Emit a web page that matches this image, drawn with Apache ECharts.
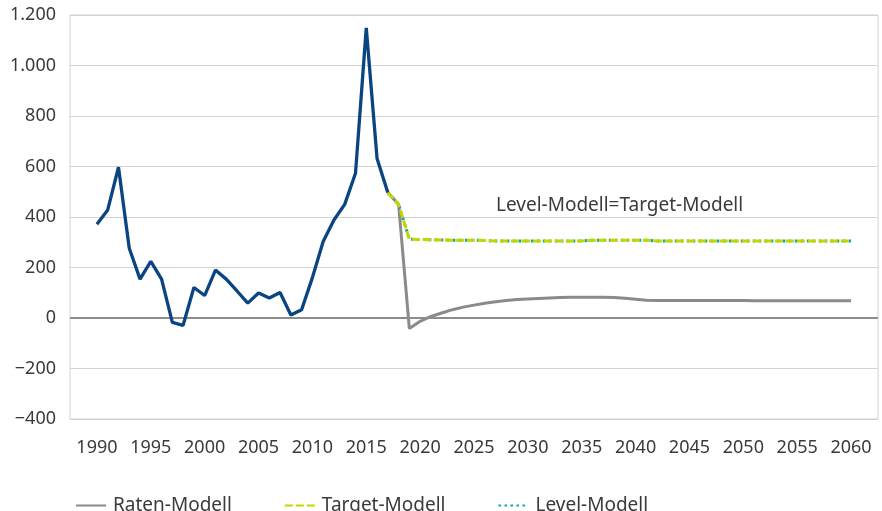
<!DOCTYPE html>
<html>
<head>
<meta charset="utf-8">
<script src="https://cdn.jsdelivr.net/npm/echarts@6/dist/echarts.min.js"></script>
<style>
    html, body { margin: 0; padding: 0; background: #fff; }
    #chart { width: 882px; height: 511px; }
</style>
</head>
<body>
<div id="chart"></div>
<script>
    // Achse: 1988 bis 2062, Beschriftung alle 5 Jahre
    let firstYear = 1988
    let lastYear = 2062
    let years = []
    for (let y = firstYear; y <= lastYear; y++) years.push(String(y))

    // Historie 1990-2017
    let histStart = 1990
    let histValues = [371, 428, 597, 276, 154, 224, 154, -17, -29, 121,
        89, 190, 154, 107, 59, 99, 79, 101, 12, 33,
        160, 303, 388, 450, 573, 1149, 632, 497]

    // Modelle ab 2017
    let modelStart = 2017
    let ratenValues = [497, 450, -42, -13, 6, 20, 33, 43, 51, 58,
        64, 69, 73, 75, 77, 79, 81, 82, 82, 82,
        82, 81, 78, 74, 70, 69, 69, 69, 69, 69,
        69, 69, 69, 69, 68, 68, 68, 68, 68, 68,
        68, 68, 68, 68]
    let targetValues = [497, 450, 312, 311, 310, 309, 308, 308, 308, 307,
        305, 305, 305, 305, 305, 305, 305, 305, 305, 308,
        308, 308, 308, 308, 308, 305, 305, 305, 305, 305,
        305, 305, 305, 305, 305, 305, 305, 305, 305, 305,
        305, 305, 305, 305]
    let levelValues = [497, 450, 312, 311, 310, 309, 308, 308, 308, 307,
        305, 305, 305, 305, 305, 305, 305, 305, 305, 308,
        308, 308, 308, 308, 308, 305, 305, 305, 305, 305,
        305, 305, 305, 305, 305, 305, 305, 305, 305, 305,
        305, 305, 305, 305]

    let yMin = -400
    let yMax = 1200
    let yStep = 200

    let font = 'Noto Sans'
    let textColor = '#3a3a3a'

    let toPairs = (start, values) => {
        return values.map((v, i) => [start + i - firstYear, v])
    }

    let fmt = (v) => {
        let s = String(Math.abs(v)).replace(/\B(?=(\d{3})+(?!\d))/g, '.')
        return (v < 0 ? '\u2212' : '') + s
    }

    let option = {
        animation: false,
        backgroundColor: '#fff',
        grid: {
            left: 70,
            right: 4,
            top: 15,
            bottom: 92,
            show: true,
            borderColor: '#d3d3d3',
            borderWidth: 1
        },
        legend: {
            data: ['Raten-Modell', 'Target-Modell', 'Level-Modell'],
            left: 70,
            top: 491,
            itemWidth: 30,
            itemHeight: 20,
            itemGap: 52,
            // nur die Linie zeigen, kein Kreis
            itemStyle: { color: 'transparent', borderWidth: 0, opacity: 0 },
            textStyle: { fontFamily: font, fontSize: 19, color: textColor, padding: [0, 0, 0, 2] }
        },
        xAxis: {
            type: 'category',
            data: years,
            boundaryGap: true,
            axisLine: { show: false },
            axisTick: { show: false },
            splitLine: { show: false },
            axisLabel: {
                interval: (idx, val) => {
                    let y = Number(val)
                    return y % 5 === 0 && y >= 1990 && y <= 2060
                },
                margin: 20,
                fontFamily: font,
                fontSize: 18,
                color: textColor
            }
        },
        yAxis: {
            type: 'value',
            min: yMin,
            max: yMax,
            interval: yStep,
            axisLine: { show: false },
            axisTick: { show: false },
            splitLine: { lineStyle: { color: '#d3d3d3', width: 1 } },
            axisLabel: {
                margin: 14,
                fontFamily: font,
                fontSize: 18,
                color: textColor,
                formatter: fmt
            }
        },
        graphic: [{
            type: 'text',
            left: 496,
            top: 196,
            style: {
                text: 'Level-Modell=Target-Modell',
                font: '19px "Noto Sans"',
                fill: textColor
            }
        }],
        series: [{
            name: 'Historie',
            type: 'line',
            data: toPairs(histStart, histValues),
            symbol: 'none',
            lineStyle: { color: '#0a4483', width: 3.3 },
            itemStyle: { color: '#0a4483' },
            z: 5
        }, {
            name: 'Raten-Modell',
            type: 'line',
            data: toPairs(modelStart, ratenValues),
            symbol: 'none',
            lineStyle: { color: '#8a8a8a', width: 3 },
            itemStyle: { color: '#8a8a8a' },
            z: 2,
            markLine: {
                silent: true,
                symbol: 'none',
                label: { show: false },
                lineStyle: { color: '#8c8c8c', width: 2, type: 'solid' },
                data: [{ yAxis: 0 }]
            }
        }, {
            name: 'Level-Modell',
            type: 'line',
            data: toPairs(modelStart, levelValues),
            symbol: 'none',
            lineStyle: { color: '#00a9b5', width: 3, type: [2.5, 3.5] },
            itemStyle: { color: '#00a9b5' },
            z: 3
        }, {
            name: 'Target-Modell',
            type: 'line',
            data: toPairs(modelStart, targetValues),
            symbol: 'none',
            lineStyle: { color: '#c3d600', width: 3, type: [8, 3] },
            itemStyle: { color: '#c3d600' },
            z: 4
        }]
    }

    let myChart = echarts.init(document.querySelector('#chart'))
    myChart.setOption(option)
</script>
</body>
</html>
